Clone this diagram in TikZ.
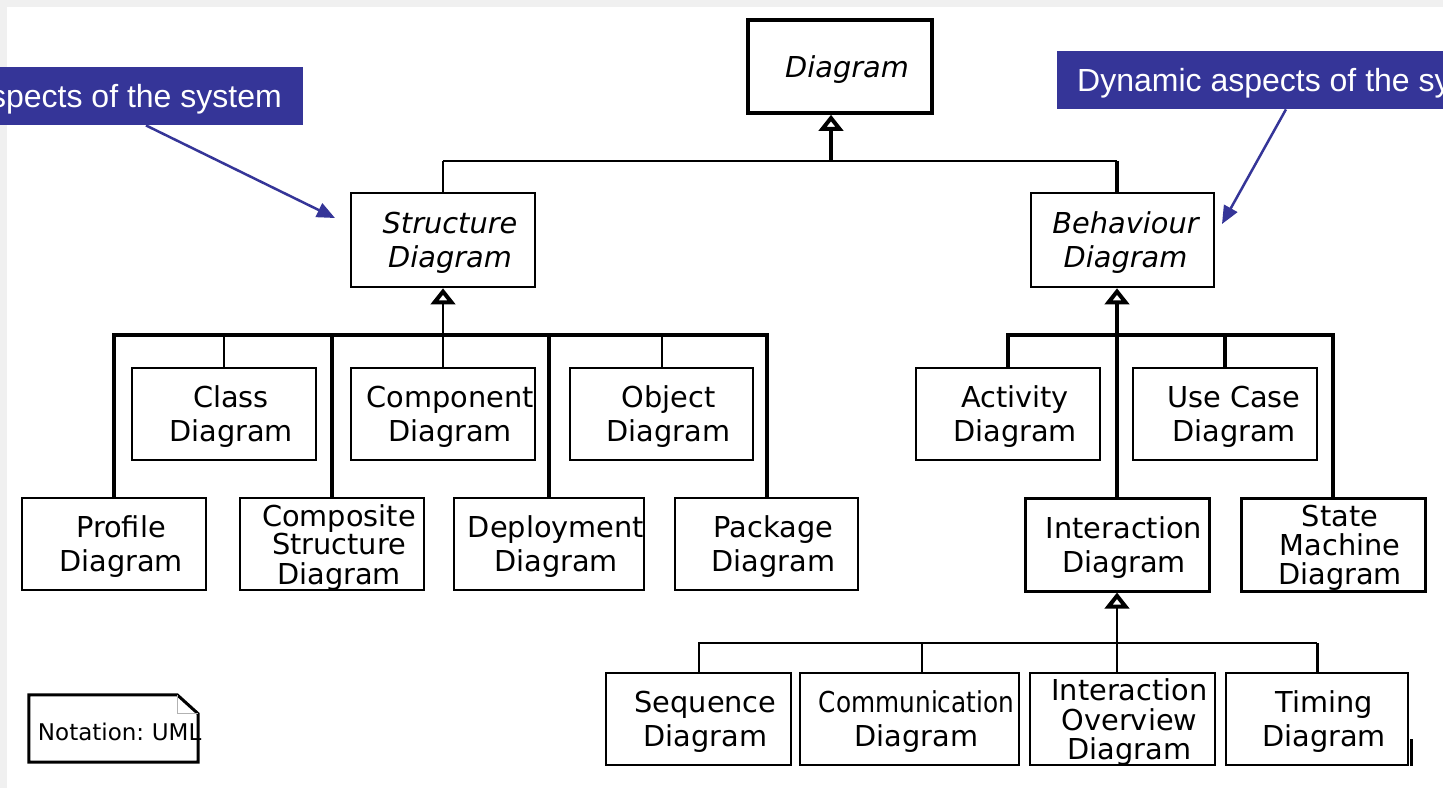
\documentclass[tikz,border=0pt]{standalone}
\usepackage{fontspec}
\setmainfont{DejaVu Sans}
\newfontfamily\callfont{Liberation Sans}
\usepackage{graphicx}
\usetikzlibrary{arrows.meta}
\definecolor{callblue}{RGB}{53,53,152}
\definecolor{framegray}{RGB}{240,240,240}
% box label: lines centred, block nudged a little right and down
\newcommand\bt[2][14pt]{\hspace*{#1}\raisebox{-4pt}[\height][\depth]{\begin{tabular}{@{}c@{}}#2\end{tabular}}}
\tikzset{
  box/.style={draw=black, fill=white, line width=2pt, inner sep=0pt,
    minimum width=184pt, minimum height=92pt,
    font=\fontsize{28.8}{34}\selectfont},
  tight/.style={font=\fontsize{28.8}{25}\selectfont},
  abstract/.style={font=\fontsize{28.8}{34}\selectfont\itshape},
  thinline/.style={line width=2pt},
  thickline/.style={line width=4pt},
  gen/.style={-{Triangle[open, length=16pt, width=24pt, line width=4pt]}},
  callout/.style={fill=callblue, text=white, font=\callfont\fontsize{32}{36}\selectfont,
    minimum height=58pt, text height=23pt, text depth=0pt, inner ysep=0pt},
  callarrow/.style={draw=callblue, line width=2.5pt, -{Triangle[length=18pt, width=15pt]}},
}
\begin{document}
\begin{tikzpicture}[x=1pt, y=-1pt]
\useasboundingbox (0,0) rectangle (1443,788);
\clip (0,0) rectangle (1443,788);
\fill[white] (0,0) rectangle (1443,788);
\fill[framegray] (0,0) rectangle (1443,7);
\fill[framegray] (0,0) rectangle (7,788);

% root and the two abstract kinds
\node[box, abstract, line width=3.5pt, minimum height=93pt] (diagram) at (840,66.5) {\bt{Diagram}};
\node[box, abstract, minimum height=94pt, line width=2.5pt] (structure) at (443,240) {\bt{Structure\\Diagram}};
\node[box, abstract, minimum width=183pt, minimum height=94pt, line width=2.5pt] (behaviour) at (1122.5,240) {\bt[6pt]{Behaviour\\Diagram}};

% structure diagrams
\node[box] (class) at (224,414) {\bt{Class\\Diagram}};
\node[box] (component) at (443,414) {\bt{Component\\Diagram}};
\node[box, minimum width=183pt] (object) at (661.5,414) {\bt{Object\\Diagram}};
\node[box] (profile) at (114,544) {\bt{Profile\\Diagram}};
\node[box, tight] (composite) at (332,544) {\bt{Composite\\Structure\\Diagram}};
\node[box, minimum width=182pt] (deployment) at (549,544) {\bt{Deployment\\Diagram}};
\node[box, minimum width=183pt] (package) at (766.5,544) {\bt{Package\\Diagram}};

% behaviour diagrams
\node[box] (activity) at (1008,414) {\bt{Activity\\Diagram}};
\node[box] (usecase) at (1225,414) {\bt[18pt]{Use Case\\Diagram}};
\node[box, line width=3pt, minimum height=93pt] (interaction) at (1117,544.5) {\bt{Interaction\\Diagram}};
\node[box, tight, line width=3pt, minimum height=93pt] (statemachine) at (1333,544.5) {\bt{State\\Machine\\Diagram}};

% interaction diagrams
\node[box, minimum width=185pt] (sequence) at (698.5,719) {\bt{Sequence\\Diagram}};
\node[box, minimum width=219pt] (communication) at (909.5,719) {\bt{\scalebox{0.86}[1]{Communication}\\Diagram}};
\node[box, tight, minimum width=185pt, line width=2.5pt] (overview) at (1122.5,719) {\bt{Interaction\\Overview\\Diagram}};
\node[box, minimum width=182pt] (timing) at (1317,719) {\bt{Timing\\Diagram}};
\draw[line width=3pt] ([xshift=2.5pt]timing.south east) -- ([xshift=2.5pt,yshift=27pt]timing.south east);

% generalisation: root level
\coordinate (tophub) at (831,161);
\draw[line width=2.5pt] (structure.north |- tophub) -- (interaction.north |- tophub);
\draw[thinline] (structure.north) -- (structure.north |- tophub);
\draw[line width=3.5pt] (behaviour.north -| interaction.north) -- (interaction.north |- tophub);
\draw[thickline, gen] (tophub) -- (tophub |- diagram.south);

% generalisation: structure level
\coordinate (sbar) at (440,335);
\draw[thickline] (profile.north) |- (package.north |- sbar) -- (package.north);
\draw[thickline] (composite.north) -- (composite.north |- sbar);
\draw[thickline] (deployment.north) -- (deployment.north |- sbar);
\draw[thinline] (class.north) -- (class.north |- sbar);
\draw[thinline] (object.north) -- (object.north |- sbar);
\draw[thinline, gen] (component.north) -- (structure.south);

% generalisation: behaviour level
\coordinate (bbar) at (1117,335);
\draw[thickline] (activity.north) |- (statemachine.north |- bbar) -- (statemachine.north);
\draw[thickline] (usecase.north) -- (usecase.north |- bbar);
\draw[thickline, gen] (interaction.north) -- (interaction.north |- behaviour.south);

% generalisation: interaction level
\coordinate (ibar) at (1117,643);
\coordinate (commtop) at ([xshift=12.5pt]communication.north);
\draw[thinline] (sequence.north) |- (timing.north |- ibar);
\draw[line width=3pt] (timing.north) -- (timing.north |- ibar);
\draw[thinline] (commtop) -- (commtop |- ibar);
\draw[thinline, gen] (overview.north -| interaction.south) -- (interaction.south);

% notation note with folded corner
\node[minimum height=67pt, text width=169pt, align=left, inner sep=0pt,
      font=\fontsize{23}{26}\selectfont] (note) at (113.5,728.5)
      {\hspace*{9pt}\raisebox{-3pt}[\height][\depth]{Notation:\ UML}};
\draw[line width=3pt] (note.north west) -- ([xshift=-21pt]note.north east)
  -- ([yshift=-19pt]note.north east) -- (note.south east) -- (note.south west) -- cycle;
\draw[line width=1pt, gray!60] ([xshift=-21pt]note.north east)
  -- ([xshift=-21pt,yshift=-19pt]note.north east) -- ([yshift=-19pt]note.north east);

% callouts
\node[callout, anchor=north east, inner xsep=21pt] (lcall) at (303,67) {spects of the system};
\node[callout, anchor=north west, inner xsep=20pt] (rcall) at (1057,51) {Dynamic aspects of the sy};
\coordinate (stip) at (335,218);
\coordinate (btip) at (1222,224);
\draw[callarrow] ([xshift=10pt]lcall.south) -- (stip);
\draw[callarrow] ([xshift=22pt]rcall.south) -- (btip);
\end{tikzpicture}
\end{document}
